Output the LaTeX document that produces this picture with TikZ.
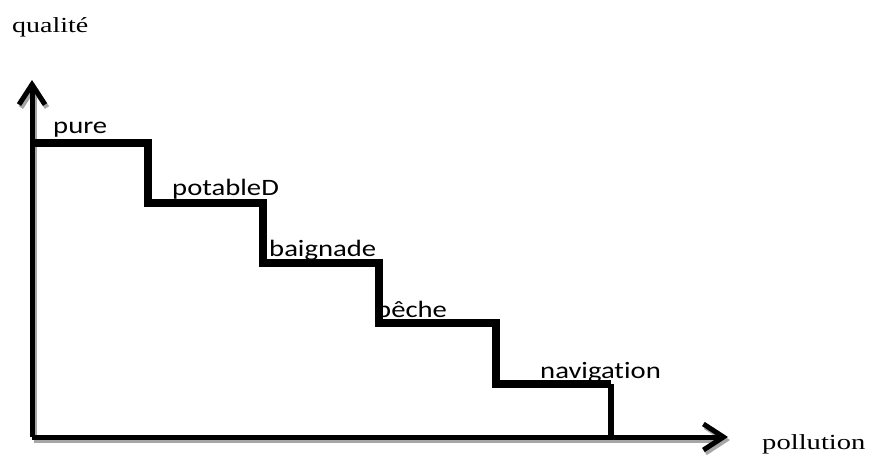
\documentclass[tikz,border=0pt]{standalone}
\usepackage{fontspec}
\setmainfont{Liberation Serif}
\newfontfamily\lblfont[Ligatures={NoCommon,NoDiscretionary}]{Carlito}
\usetikzlibrary{arrows.meta}
\tikzset{
  axis/.style={line width=5pt, -{Straight Barb[length=20pt,width=26pt,line width=5pt]}},
  axshadow/.style={line width=5pt, gray!70, -{Straight Barb[length=20pt,width=26pt,line width=5pt]}},
  stair/.style={line width=8pt, line join=miter},
  lastdrop/.style={line width=5.5pt},
  lbl/.style={anchor=base west, inner sep=0pt, font=\lblfont\fontsize{23.5}{28}\selectfont},
  ttl/.style={anchor=base west, inner sep=0pt, font=\fontsize{21.5}{26}\selectfont},
}
\begin{document}
\begin{tikzpicture}[x=1pt,y=-1pt]
\useasboundingbox (0,0) rectangle (870,457);
\coordinate (O) at (32,437);
\coordinate (Ytop) at (32,80);
\coordinate (Xend) at (728,437);
\coordinate (s0) at (32,143);
\coordinate (s1) at (148,143);
\coordinate (s2) at (148,203);
\coordinate (s3) at (263,203);
\coordinate (s4) at (263,263);
\coordinate (s5) at (379,263);
\coordinate (s6) at (379,323);
\coordinate (s7) at (496,323);
\coordinate (s8) at (496,384);
\coordinate (s9) at (611,384);
\coordinate (s10) at (611,437);
% shadows
\draw[axshadow] ([shift={(2,3)}]O) -- ([shift={(2,3)}]Ytop);
\draw[axshadow] ([shift={(2,3)}]O) -- ([shift={(2,3)}]Xend);
% axes
\draw[axis] (O) -- (Ytop);
\draw[axis] (O) -- (Xend);
% stairs
\draw[stair] (s0) -- (s1) -- (s2) -- (s3) -- (s4) -- (s5) -- (s6) -- (s7) -- (s8) -- (s9);
\draw[lastdrop] (s9) -- (s10);
% labels
\node[ttl] (q) at (12,33) {\scalebox{1.3}[1]{qualité}};
\node[ttl] (p) at (762,449) {\scalebox{1.33}[1]{pollution}};
\node[lbl] (l1) at (53,134) {\scalebox{1.22}[1]{pure}};
\node[lbl] (l2) at (172,196) {\scalebox{1.22}[1]{potableD}};
\node[lbl] (l3) at (269,256) {\scalebox{1.22}[1]{baignade}};
\node[lbl] (l4) at (376,317) {\scalebox{1.22}[1]{pêche}};
\node[lbl] (l5) at (540,378) {\scalebox{1.22}[1]{navigation}};
\end{tikzpicture}
\end{document}
